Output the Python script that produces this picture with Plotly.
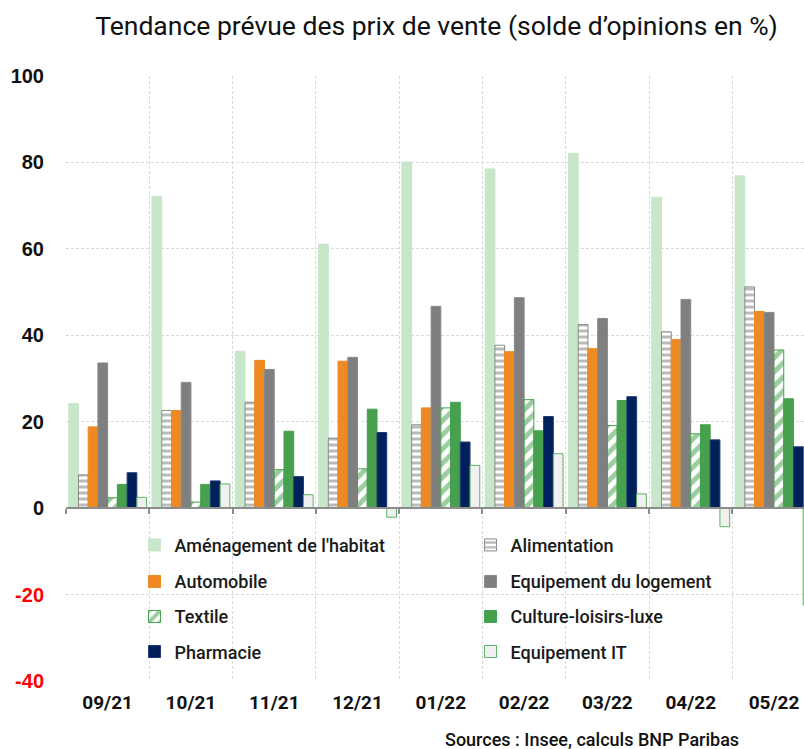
import plotly.graph_objects as go

categories = ["09/21", "10/21", "11/21", "12/21", "01/22", "02/22", "03/22", "04/22", "05/22"]
amenagement = [24.2, 72.1, 36.3, 61.1, 80.1, 78.5, 82.1, 71.9, 76.9]
alimentation = [7.7, 22.6, 24.5, 16.2, 19.3, 37.7, 42.5, 40.8, 51.2]
automobile = [18.8, 22.6, 34.2, 34.0, 23.2, 36.2, 36.9, 39.0, 45.5]
equip_logement = [33.6, 29.1, 32.1, 34.9, 46.7, 48.7, 43.9, 48.3, 45.3]
textile = [2.4, 1.4, 8.9, 9.1, 23.2, 25.1, 19.1, 17.2, 36.6]
culture = [5.5, 5.5, 17.8, 22.9, 24.5, 17.9, 24.9, 19.3, 25.3]
pharmacie = [8.2, 6.3, 7.3, 17.5, 15.3, 21.2, 25.8, 15.8, 14.2]
equip_it = [2.5, 5.6, 3.1, -2.1, 9.9, 12.6, 3.3, -4.3, -22.4]

y_ticks = [-40, -20, 0, 20, 40, 60, 80, 100]

series = [
    ("Aménagement de l'habitat", amenagement, dict(color="#c8e6c9", line=dict(color="#c8e6c9", width=1)), "legend", 291),
    ("Alimentation", alimentation, dict(color="white", line=dict(color="#8a8a8a", width=1),
                                        pattern=dict(shape="-", fgcolor="#767676", bgcolor="white", size=6, solidity=0.5)), "legend", 230),
    ("Automobile", automobile, dict(color="#ef8a22", line=dict(color="#ef8a22", width=1)), "legend2", 291),
    ("Equipement du logement", equip_logement, dict(color="#7f7f7f", line=dict(color="#8a8a8a", width=1)), "legend2", 230),
    ("Textile", textile, dict(color="white", line=dict(color="#45a04c", width=1),
                              pattern=dict(shape="/", fgcolor="#3a9a43", bgcolor="white", size=10, solidity=0.5)), "legend3", 291),
    ("Culture-loisirs-luxe", culture, dict(color="#46a04e", line=dict(color="#46a04e", width=1)), "legend3", 230),
    ("Pharmacie", pharmacie, dict(color="#00205b", line=dict(color="#1f3b73", width=1)), "legend4", 291),
    ("Equipement IT", equip_it, dict(color="#f0f0f0", line=dict(color="#5cb263", width=1)), "legend4", 230),
]

fig = go.Figure()
for name, vals, marker, lg, lw in series:
    fig.add_trace(go.Bar(x=categories, y=vals, name=name, marker=marker, legend=lg, legendwidth=lw))

# helper axis for the zero line with its boundary ticks
fig.add_trace(go.Scatter(x=[None], y=[None], xaxis="x2", showlegend=False, hoverinfo="skip"))

x_end = 8.36
grid_col = "#d9d9d9"
leg_font = dict(family="Roboto", size=18, color="#1a1a1a", weight=500)
leg_common = dict(orientation="h", bgcolor="rgba(0,0,0,0)", font=leg_font,
                  xanchor="left", yanchor="middle", x=0.0929)

fig.update_layout(
    width=804, height=749,
    margin=dict(l=66, r=0, t=76, b=68, autoexpand=False),
    paper_bgcolor="white", plot_bgcolor="white",
    barmode="group", bargap=0.065, bargroupgap=0,
    title=dict(text="Tendance prévue des prix de vente (solde d’opinions en %)",
               font=dict(family="Roboto", size=26.5, color="#111111", weight=400),
               x=436.5 / 804, xanchor="center", xref="container",
               y=1 - 26 / 749, yanchor="middle", yref="container"),
    xaxis=dict(type="category", categoryorder="array", categoryarray=categories,
               range=[-0.5, x_end], tickson="boundaries", ticks="", automargin=False,
               showgrid=True, gridcolor=grid_col, griddash="3px,2px", gridwidth=1,
               showline=False, zeroline=False, ticklabelstandoff=8,
               tickfont=dict(family="Roboto", size=19, color="#111111", weight="bold")),
    xaxis2=dict(overlaying="x", anchor="free", position=40 / 140, range=[-0.5, x_end],
                tickmode="array", tickvals=[i - 0.5 for i in range(10)], automargin=False,
                ticks="outside", ticklen=5, tickwidth=1.5, tickcolor="#8c8c8c",
                showline=True, linecolor="#8c8c8c", linewidth=2,
                showgrid=False, zeroline=False, showticklabels=False),
    yaxis=dict(range=[-40, 100], tickmode="array", tickvals=y_ticks, automargin=False,
               ticktext=[("<span style='color:#ff0000'>%d</span>" % v) if v < 0 else str(v) for v in y_ticks],
               showgrid=True, gridcolor=grid_col, griddash="3px,2px", gridwidth=1,
               zeroline=False, showline=False, ticks="", ticklabelstandoff=21,
               tickfont=dict(family="Liberation Sans", size=20, color="#111111", weight="bold")),
    legend=dict(**leg_common, y=(680.7 - 545) / 604.7),
    legend2=dict(**leg_common, y=(680.7 - 581.5) / 604.7),
    legend3=dict(**leg_common, y=(680.7 - 616.5) / 604.7),
    legend4=dict(**leg_common, y=(680.7 - 651.5) / 604.7),
    annotations=[dict(text="Sources : Insee, calculs BNP Paribas", xref="paper", yref="paper",
                      x=(592 - 66) / 738, y=(680.7 - 739) / 604.7, xanchor="center", yanchor="middle",
                      showarrow=False, font=dict(family="Roboto", size=18, color="#111111", weight=500))],
)

fig.write_html("out.html", config={"displayModeBar": False},
               post_script="document.body.style.margin='0px';document.body.style.overflow='hidden';")
